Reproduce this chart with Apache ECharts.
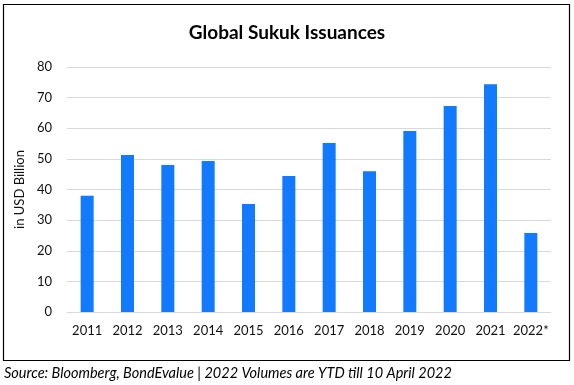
<!DOCTYPE html>
<html><head><meta charset="utf-8">
<script src="https://cdn.jsdelivr.net/npm/echarts@6/dist/echarts.min.js"></script>
<style>html,body{margin:0;padding:0;background:#fff}#c{width:574px;height:385px}</style>
</head><body><div id="c"></div>
<script>
const categories = ['2011','2012','2013','2014','2015','2016','2017','2018','2019','2020','2021','2022*'];
const issuances = [38.0, 51.3, 48.0, 49.3, 35.3, 44.4, 55.2, 46.0, 59.1, 67.3, 74.4, 25.8];
const titleText = 'Global Sukuk Issuances';
const yAxisName = 'in USD Billion';
const sourceText = 'Source: Bloomberg, BondEvalue | 2022 Volumes are YTD till 10 April 2022';

const chart = echarts.init(document.getElementById('c'), null, {renderer:'canvas'});
const font = 'Lato, "Open Sans", sans-serif';
chart.setOption({
  animation: false,
  title: {
    text: titleText, left: 'center', top: 18,
    textStyle: {fontFamily: font, fontWeight: 'bold', fontSize: 19, color: '#000'}
  },
  grid: {left: 67, right: 23, top: 67, bottom: 73, containLabel: false},
  xAxis: {
    type: 'category', data: categories,
    axisLine: {lineStyle: {color: '#d9d9d9'}},
    axisTick: {show: false},
    axisLabel: {fontFamily: font, fontSize: 13, color: '#111', margin: 12, interval: 0}
  },
  yAxis: {
    type: 'value', min: 0, max: 80, interval: 10,
    name: yAxisName, nameLocation: 'middle', nameGap: 38, nameRotate: 90,
    nameTextStyle: {fontFamily: font, fontSize: 13, color: '#111'},
    axisLine: {show: false}, axisTick: {show: false},
    splitLine: {lineStyle: {color: '#d9d9d9'}},
    axisLabel: {fontFamily: font, fontSize: 13, color: '#111', margin: 15}
  },
  series: [{
    type: 'bar', data: issuances, barWidth: 13,
    itemStyle: {color: '#117AFF'}
  }],
  graphic: [
    {type: 'rect', shape: {x: 3.5, y: 4.5, width: 566, height: 356},
     style: {fill: 'none', stroke: '#000', lineWidth: 1.2}, z: -1},
    {type: 'text', left: 4, top: 366,
     style: {text: sourceText, font: 'italic 14.5px ' + font, fill: '#000'}}
  ]
});
</script></body></html>
